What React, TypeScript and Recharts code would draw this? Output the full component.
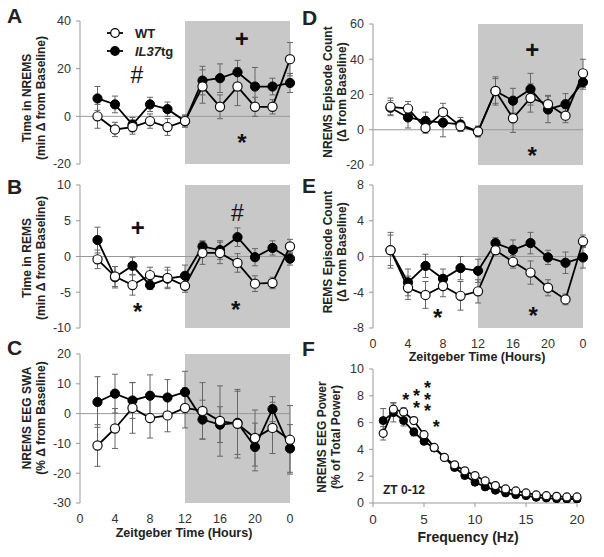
import { ErrorBar, Line, LineChart, ReferenceArea, ReferenceDot, ReferenceLine, XAxis, YAxis } from 'recharts';

const FONT = "'Liberation Sans', Arial, sans-serif";

const zt = [2, 4, 6, 8, 10, 12, 14, 16, 18, 20, 22, 24];
const ztTicks = [0, 4, 8, 12, 16, 20, 24];

// A - time in NREMS
const nremsWT = [0, -5.5, -4.5, -2, -4.5, -2, 12.5, 4, 12.5, 4, 4, 24];
const nremsWTErr = [5, 3, 3, 3, 3.5, 2.5, 7, 5, 8, 4, 3, 7];
const nremsTg = [7.5, 5, -3.5, 5, 3, -2, 15, 16, 18.5, 12.5, 12.5, 14];
const nremsTgErr = [5, 3.5, 3, 3, 3, 2.5, 6, 6, 5, 8, 3.5, 4];

// B - time in REMS
const remsWT = [-0.4, -2.8, -4, -2.6, -3, -4.1, 0.5, 0.5, -0.9, -3.8, -3.7, 1.4];
const remsWTErr = [1.3, 1.4, 1.4, 1.1, 1.5, 0.9, 1.6, 1.5, 1.3, 1.1, 0.8, 1.0];
const remsTg = [2.3, -2.9, -1.3, -4, -3.1, -2.7, 1.4, 0.9, 2.7, -0.1, 1.2, -0.3];
const remsTgErr = [1.8, 1.5, 1.2, 0.6, 1.2, 1.5, 0.8, 1.3, 1.3, 1.2, 1.0, 0.9];

// C - NREMS EEG SWA
const swaWT = [-10.7, -5, 1.9, -1.5, -0.6, 1.9, 0.9, -2.5, -3.4, -8.2, -4.8, -8.8];
const swaWTErr = [7, 6.7, 8.5, 6.7, 5.5, 6.7, 9.5, 11.8, 11.5, 9.4, 8.6, 11.5];
const swaTg = [3.9, 6.7, 4.4, 6, 5.4, 7.2, -2, -3.7, -3.1, -11.2, 1.5, -11.7];
const swaTgErr = [8.5, 6.5, 6, 7, 6, 7, 6.5, 6, 10.6, 8, 4.2, 8];

// D - NREMS episode count
const nremsEpWT = [13, 12, 1, 10, 2, -1, 22, 6.5, 18, 14.5, 8, 32];
const nremsEpWTErr = [5, 4, 3, 5, 3, 3, 7, 8, 8, 5, 4, 8];
const nremsEpTg = [12.5, 7, 5, 4, 3, -1, 22, 16.5, 23, 11.5, 14.5, 27];
const nremsEpTgErr = [4, 6, 5, 8, 4, 3, 8, 7, 9, 7.5, 6, 4];

// E - REMS episode count
const remsEpWT = [0.7, -3.5, -4.3, -3.3, -4.4, -3.9, 0.7, -0.6, -1.8, -3.5, -4.8, 1.7];
const remsEpWTErr = [1.7, 1.3, 1.5, 1.2, 1.6, 1.3, 0.5, 0.7, 1.3, 0.9, 0.6, 0.7];
const remsEpTg = [0.7, -2.9, -1.05, -2.5, -1.3, -1.6, 1.5, 0.75, 1.5, -0.1, -0.7, -0.1];
const remsEpTgErr = [2, 1.5, 1.3, 1.1, 1.3, 1.3, 0.6, 1.1, 1.2, 0.8, 1.2, 1.2];

// F - NREMS EEG power spectrum, ZT 0-12
const hz = [1, 2, 3, 4, 5, 6, 7, 8, 9, 10, 11, 12, 13, 14, 15, 16, 17, 18, 19, 20];
const powerWT = [5.2, 7.0, 6.8, 6.15, 5.1, 4.15, 3.4, 2.85, 2.4, 2.05, 1.65, 1.3, 1.05, 0.9, 0.75, 0.6, 0.55, 0.5, 0.45, 0.45];
const powerWTErr = [0.5, 0.5, 0.3, 0.25, 0.2, 0.2, 0.15, 0.12, 0.1, 0.1, 0.1, 0.08, 0.08, 0.06, 0.06, 0.05, 0.05, 0.05, 0.05, 0.05];
const powerTg = [6.15, 6.75, 6.15, 5.3, 4.6, 4.1, 3.4, 2.65, 2.05, 1.55, 1.2, 0.95, 0.75, 0.62, 0.55, 0.42, 0.37, 0.32, 0.3, 0.3];
const powerTgErr = [0.9, 0.7, 0.4, 0.3, 0.2, 0.25, 0.2, 0.15, 0.12, 0.1, 0.1, 0.08, 0.06, 0.06, 0.05, 0.05, 0.05, 0.05, 0.05, 0.05];

type Note = { x: number; y: number; t: string; size?: number };

const notesA: Note[] = [
  { x: 6.5, y: 17.2, t: '#' },
  { x: 18.5, y: 32.7, t: '+' },
  { x: 18.5, y: -8.6, t: '*' },
];
const notesB: Note[] = [
  { x: 6.6, y: 4.1, t: '+' },
  { x: 6.6, y: -6.9, t: '*' },
  { x: 18, y: 6.15, t: '#' },
  { x: 17.8, y: -6.7, t: '*' },
];
const notesD: Note[] = [
  { x: 18.2, y: 45.7, t: '+' },
  { x: 18.2, y: -11.3, t: '*' },
];
const notesE: Note[] = [
  { x: 7.4, y: -6.2, t: '*' },
  { x: 18.3, y: -6, t: '*' },
];
const notesF: Note[] = [
  { x: 3.2, y: 8.05, t: '*', size: 18 },
  { x: 4.27, y: 8.3, t: '*', size: 18 },
  { x: 4.27, y: 7.45, t: '*', size: 18 },
  { x: 5.35, y: 8.9, t: '*', size: 18 },
  { x: 5.35, y: 8.05, t: '*', size: 18 },
  { x: 5.35, y: 7.2, t: '*', size: 18 },
  { x: 6.2, y: 6.0, t: '*', size: 18 },
];

function rows(xs: number[], wt: number[], wtErr: number[], tg: number[], tgErr: number[]) {
  return xs.map((x, i) => ({ x, wt: wt[i], wtErr: wtErr[i], tg: tg[i], tgErr: tgErr[i] }));
}

function NoteShape({ cx, cy, t, size }: any) {
  const fs = size ?? (t === '#' ? 23 : 24);
  const lift = t === '*' ? 0.58 : t === '+' ? 0.36 : 0.35;
  return (
    <text
      x={cx}
      y={cy + lift * fs}
      textAnchor="middle"
      fontSize={fs}
      fontWeight={t === '#' ? 'normal' : 'bold'}
      fontFamily={FONT}
      fill="#111"
    >
      {t}
    </text>
  );
}

const YW = 40;
const MT = 8;
const MR = 12;
const MB = 10;

function Panel({
  data,
  x0,
  x1,
  y0,
  y1,
  yDomain,
  yTicks,
  xDomain = [0, 24],
  xTicks = ztTicks,
  showX = false,
  xLine = false,
  shade = true,
  notes = [],
  r = 4.6,
  xFont = 12.5,
}: any) {
  const xh = showX ? 22 : 0;
  return (
    <div style={{ position: 'absolute', left: x0 - YW, top: y0 - MT }}>
      <LineChart
        width={YW + (x1 - x0) + MR}
        height={MT + (y1 - y0) + xh + MB}
        data={data}
        margin={{ top: MT, right: MR, bottom: MB, left: 0 }}
      >
        <XAxis
          dataKey="x"
          type="number"
          domain={xDomain}
          ticks={xTicks}
          hide={!showX}
          height={xh}
          axisLine={xLine ? { stroke: '#999' } : false}
          tickLine={xLine ? { stroke: '#999' } : false}
          tickSize={4}
          tickMargin={7}
          interval={0}
          tick={{ fill: '#333', fontSize: xFont, fontFamily: FONT }}
          tickFormatter={(v) => (xDomain[1] === 24 && v === 24 ? '0' : String(v))}
        />
        <YAxis
          width={YW}
          type="number"
          domain={yDomain}
          ticks={yTicks}
          interval={0}
          allowDataOverflow
          axisLine={{ stroke: '#999' }}
          tickLine={{ stroke: '#999' }}
          tickSize={4}
          tickMargin={5}
          tick={{ fill: '#333', fontSize: 12.5, fontFamily: FONT }}
        />
        {shade && (
          <ReferenceArea x1={12} x2={24} y1={yDomain[0]} y2={yDomain[1]} fill="#c8c8c8" fillOpacity={1} stroke="none" />
        )}
        {!xLine && <ReferenceLine y={0} stroke="#999" strokeWidth={1} />}
        <Line
          dataKey="tg"
          stroke="#000"
          strokeWidth={1.8}
          dot={{ r, fill: '#000', stroke: '#000', strokeWidth: 1 }}
          isAnimationActive={false}
        >
          <ErrorBar dataKey="tgErr" width={3} stroke="#666" strokeWidth={1} direction="y" />
        </Line>
        <Line
          dataKey="wt"
          stroke="#000"
          strokeWidth={1.8}
          dot={{ r, fill: '#fff', stroke: '#111', strokeWidth: 1.2 }}
          isAnimationActive={false}
        >
          <ErrorBar dataKey="wtErr" width={3} stroke="#666" strokeWidth={1} direction="y" />
        </Line>
        {notes.map((n: Note, i: number) => (
          <ReferenceDot
            key={i}
            x={n.x}
            y={n.y}
            r={0}
            shape={(p: any) => <NoteShape cx={p.cx} cy={p.cy} t={n.t} size={n.size} />}
          />
        ))}
      </LineChart>
    </div>
  );
}

function YTitle({ cx, cy, lines }: { cx: number; cy: number; lines: string[] }) {
  return (
    <div
      style={{
        position: 'absolute',
        left: cx,
        top: cy,
        transform: 'translate(-50%, -50%) rotate(-90deg)',
        textAlign: 'center',
        whiteSpace: 'nowrap',
        fontFamily: FONT,
        fontWeight: 'bold',
        fontSize: 12,
        lineHeight: '14px',
        color: '#222',
      }}
    >
      {lines[0]}
      <br />
      {lines[1]}
    </div>
  );
}

function Text({ x, y, children, size = 12, anchor = 'center' }: any) {
  return (
    <div
      style={{
        position: 'absolute',
        left: x,
        top: y,
        transform: anchor === 'center' ? 'translate(-50%, -50%)' : 'translate(0, -50%)',
        whiteSpace: 'nowrap',
        fontFamily: FONT,
        fontWeight: 'bold',
        fontSize: size,
        color: '#222',
      }}
    >
      {children}
    </div>
  );
}

function LegendKey({ y, filled }: { y: number; filled: boolean }) {
  return (
    <svg style={{ position: 'absolute', left: 105, top: y - 6 }} width={20} height={12}>
      <line x1={2} y1={6} x2={18} y2={6} stroke="#000" strokeWidth={1.8} />
      <circle cx={10} cy={6} r={4.3} fill={filled ? '#000' : '#fff'} stroke="#000" strokeWidth={1.2} />
    </svg>
  );
}

export default function App() {
  return (
    <div style={{ position: 'absolute', left: 0, top: 0, width: 604, height: 557, background: '#fff', overflow: 'hidden' }}>
      <Panel
        data={rows(zt, nremsWT, nremsWTErr, nremsTg, nremsTgErr)}
        x0={80} x1={290} y0={21} y1={164}
        yDomain={[-20, 40]} yTicks={[-20, 0, 20, 40]}
        notes={notesA}
      />
      <Panel
        data={rows(zt, remsWT, remsWTErr, remsTg, remsTgErr)}
        x0={80} x1={290} y0={185} y1={328}
        yDomain={[-10, 10]} yTicks={[-10, -5, 0, 5, 10]}
        notes={notesB}
      />
      <Panel
        data={rows(zt, swaWT, swaWTErr, swaTg, swaTgErr)}
        x0={80} x1={290} y0={354} y1={503}
        yDomain={[-30, 20]} yTicks={[-30, -20, -10, 0, 10, 20]}
        showX
      />
      <Panel
        data={rows(zt, nremsEpWT, nremsEpWTErr, nremsEpTg, nremsEpTgErr)}
        x0={373} x1={583} y0={24} y1={165}
        yDomain={[-20, 60]} yTicks={[-20, 0, 20, 40, 60]}
        notes={notesD}
      />
      <Panel
        data={rows(zt, remsEpWT, remsEpWTErr, remsEpTg, remsEpTgErr)}
        x0={373} x1={583} y0={185} y1={328}
        yDomain={[-8, 8]} yTicks={[-8, -4, 0, 4, 8]}
        notes={notesE}
        showX
      />
      <Panel
        data={rows(hz, powerWT, powerWTErr, powerTg, powerTgErr)}
        x0={373} x1={577} y0={369} y1={503}
        yDomain={[0, 10]} yTicks={[0, 2, 4, 6, 8, 10]}
        xDomain={[0, 20]} xTicks={[0, 5, 10, 15, 20]}
        showX xLine shade={false} r={4} xFont={13.5}
        notes={notesF}
      />

      <Text x={7} y={16} size={21} anchor="left">A</Text>
      <Text x={7} y={187} size={21} anchor="left">B</Text>
      <Text x={7} y={348} size={21} anchor="left">C</Text>
      <Text x={302} y={18} size={21} anchor="left">D</Text>
      <Text x={302} y={186} size={21} anchor="left">E</Text>
      <Text x={302} y={349} size={21} anchor="left">F</Text>

      <YTitle cx={34} cy={98} lines={['Time in NREMS', '(min \u0394 from Baseline)']} />
      <YTitle cx={34} cy={258} lines={['Time in REMS', '(min \u0394 from Baseline)']} />
      <YTitle cx={34} cy={418} lines={['NREMS EEG SWA', '(% \u0394 from Baseline)']} />
      <YTitle cx={335} cy={92} lines={['NREMS Episode Count', '(\u0394 from Baseline)']} />
      <YTitle cx={335} cy={252} lines={['REMS Episode Count', '(\u0394 from Baseline)']} />
      <YTitle cx={329} cy={437} lines={['NREMS EEG Power', '(% of Total Power)']} />

      <Text x={184} y={533} size={12.5}>Zeitgeber Time (Hours)</Text>
      <Text x={477} y={357} size={12.5}>Zeitgeber Time (Hours)</Text>
      <Text x={468} y={537} size={14}>Frequency (Hz)</Text>
      <Text x={383} y={490} size={12} anchor="left">ZT 0-12</Text>

      <LegendKey y={33} filled={false} />
      <LegendKey y={51} filled />
      <Text x={135} y={33} size={13} anchor="left">WT</Text>
      <Text x={135} y={51} size={13} anchor="left">
        <i>IL37</i>tg
      </Text>
    </div>
  );
}
